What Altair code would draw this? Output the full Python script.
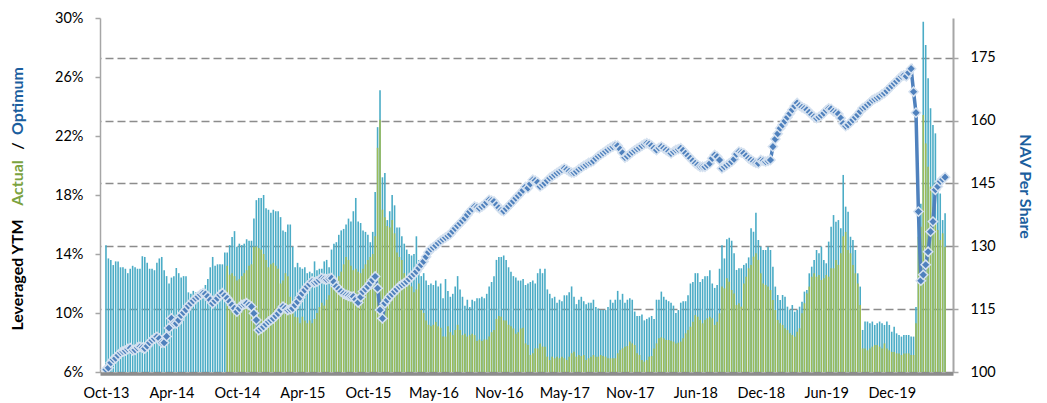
import altair as alt
import pandas as pd

# ---------------- data (weekly, starting 2013-10-04) ----------------
start_date = "2013-10-04"
tick_labels = ["Oct-13", "Apr-14", "Oct-14", "Apr-15", "Oct-15", "May-16", "Nov-16",
               "May-17", "Nov-17", "Jun-18", "Dec-18", "Jun-19", "Dec-19"]
label_step_weeks = 27

# Optimum leveraged YTM (%)
opt_a = [14.6, 13.7, 13.6, 13.25, 13.5, 13.5, 13.1, 13.1, 13.0, 12.7,
         13.0, 13.2, 13.1, 13.0, 13.0, 13.85, 13.8, 13.4, 13.0, 13.0,
         12.9, 13.4, 13.7, 13.8, 12.9, 12.5, 12.0, 12.4, 12.5, 13.05,
         12.7, 12.4, 12.5, 12.5, 11.4, 11.3, 11.5, 11.4, 11.2, 11.5,
         11.6, 11.9, 12.3, 13.1, 13.8, 13.2, 13.3, 13.3, 13.3, 14.1,
         14.1, 14.6, 15.15, 15.55, 14.5, 14.7, 14.6, 14.7, 15.0, 14.9,
         14.9, 16.4, 17.65, 17.8, 17.8, 18.0, 17.1, 17.0, 16.8, 17.0,
         16.9, 16.9, 16.5, 15.6, 15.5, 16.0, 16.0, 14.5, 13.1, 13.4,
         13.1, 13.0, 13.1, 12.7]
opt_b = [12.8]
opt_c = [12.7, 13.5, 12.9, 13.0, 13.0, 13.5, 13.6, 13.1, 14.3, 14.7,
         14.8, 15.3, 15.6, 15.7, 16.0, 16.4, 16.2, 16.9, 17.8, 16.2,
         16.1, 15.6, 15.5, 15.3, 14.8, 15.5, 18.2, 22.6, 25.1, 19.2,
         19.5, 16.3, 16.9, 18.0, 17.3, 15.8, 15.8, 15.2, 14.7, 14.3,
         14.0, 13.9, 14.0, 15.2, 13.6, 12.5, 12.7, 12.2, 11.9, 12.0,
         11.9, 12.2, 11.8, 12.0, 11.0, 12.3, 11.5, 11.1, 11.3, 11.8,
         12.5, 11.6, 11.1, 10.5, 10.9, 10.4, 10.9, 10.8, 11.0, 11.0,
         11.1, 11.0, 11.3, 11.8, 12.1, 12.5, 13.6, 13.8, 13.8, 13.9,
         13.6, 13.1, 12.8, 12.5, 12.4, 12.2, 12.2, 12.3]
opt_d = [11.9, 12.0, 12.1, 12.2, 12.0, 12.7, 13.0, 12.7, 13.0, 11.6,
         11.3, 11.0, 11.1, 10.7, 10.9, 10.8, 11.2, 11.2, 11.4, 11.8,
         11.1, 10.6, 10.9, 11.1, 10.8, 10.6, 10.7, 10.7, 10.9, 10.4,
         10.3, 10.2, 10.2, 10.2, 10.4, 10.9, 10.7, 10.9, 11.5, 10.9,
         11.3, 10.7, 10.9, 11.0, 10.9, 10.1, 9.8, 9.8, 9.9, 9.5,
         9.6, 9.7, 9.8, 9.6, 10.9, 10.9, 11.45, 11.1, 10.9, 10.8,
         10.7, 10.5, 10.0, 10.2, 10.7, 10.8, 10.8, 11.2, 12.0, 12.1,
         12.7, 12.7, 12.1, 12.3, 12.5, 12.5, 12.9, 12.0, 11.7, 11.9,
         13.0, 14.6, 13.7, 15.0, 15.1, 14.9]
opt_e = [14.05, 12.92, 13.03, 13.03, 13.26, 13.37, 13.77, 15.74, 15.51, 16.8,
         14.95, 14.5, 14.27, 14.27, 14.5, 14.27, 13.14, 11.79, 11.22, 10.88,
         11.22, 11.11, 10.43, 10.2, 10.54, 10.09, 10.2, 10.43, 10.77, 11.45,
         11.56, 12.69, 13.14, 13.59, 14.27, 14.05, 14.5, 13.59, 13.37, 14.84,
         15.85, 16.64, 16.19, 16.3, 15.74, 19.36, 17.21, 16.87, 15.17, 14.95,
         14.27, 12.69, 11.79, 8.85, 9.42, 9.42, 9.3, 9.42, 9.19, 9.3,
         9.42, 9.3, 9.19, 9.42, 9.19, 8.73, 9.07, 8.62, 8.51, 8.4,
         8.51, 8.51, 8.51, 8.4, 8.4, 10.4, 16.2, 17.4, 29.75, 28.17,
         25.91, 23.88, 22.75, 22.18, 18.79, 18.1, 16.3, 16.76]

# Actual leveraged YTM (%), no values before Sep-14
act_none = [None] * 50
act_a = [13.2, 12.6, 12.7, 12.5, 12.2, 12.3, 12.5, 12.7, 12.9, 13.2,
         13.3, 14.5, 14.5, 14.4, 14.3, 14.0, 13.6, 13.1, 13.3, 13.4,
         13.2, 13.0, 12.0, 12.2, 12.7, 12.5, 11.1, 10.2, 9.75, 9.7,
         9.3, 9.75, 9.5, 9.3]
act_b = [9.5]
act_c = [9.3, 9.6, 10.0, 10.4, 10.7, 10.5, 10.9, 11.2, 11.8, 11.6,
         12.2, 12.5, 12.8, 13.3, 13.8, 13.6, 13.2, 12.9, 13.0, 12.8,
         12.7, 13.0, 13.3, 13.6, 13.8, 14.0, 15.2, 21.2, 23.1, 17.0,
         16.5, 15.9, 15.8, 16.3, 15.4, 14.1, 13.8, 13.6, 12.7, 11.8,
         12.0, 11.8, 11.4, 11.6, 12.0, 10.2, 10.0, 9.5, 9.2, 9.1,
         9.2, 9.4, 9.1, 9.0, 8.4, 8.4, 9.1, 8.7, 8.5, 8.85,
         9.2, 8.85, 8.5, 8.6, 8.4, 8.5, 8.6, 8.5, 8.1, 8.2,
         8.1, 8.2, 8.2, 8.4, 8.7, 8.85, 9.6, 9.8, 9.75, 9.5,
         9.5, 9.2, 9.1, 8.95, 8.6, 8.7, 8.95, 9.0]
act_d = [7.94, 7.83, 7.15, 7.27, 7.6, 7.6, 7.94, 7.72, 7.72, 7.04,
         6.81, 7.04, 6.93, 7.04, 6.93, 7.04, 6.93, 6.81, 7.04, 7.27,
         7.38, 7.04, 7.15, 7.08, 7.15, 6.81, 6.93, 7.04, 7.15, 7.04,
         7.04, 7.15, 7.08, 7.04, 6.93, 6.93, 6.93, 6.93, 7.27, 7.49,
         7.6, 7.72, 7.76, 8.06, 7.94, 7.83, 7.27, 7.15, 6.81, 6.7,
         6.81, 7.04, 7.08, 7.6, 7.94, 8.28, 8.35, 8.28, 8.17, 8.17,
         8.12, 8.06, 7.94, 7.99, 8.06, 8.28, 8.62, 8.85, 9.07, 9.41,
         9.86, 9.75, 9.53, 9.3, 9.53, 9.64, 9.75, 9.64, 9.19, 9.41,
         9.98, 11.79, 11.67, 12.35, 12.12, 11.56]
act_e = [11.33, 10.54, 10.66, 10.43, 12.0, 12.46, 13.03, 13.26, 13.82, 14.05,
         13.6, 12.69, 12.0, 11.9, 11.79, 11.56, 10.88, 10.2, 9.53, 9.3,
         9.19, 8.96, 8.85, 8.62, 8.51, 8.4, 8.73, 8.96, 9.98, 10.66,
         11.33, 11.79, 12.46, 12.69, 12.46, 12.58, 12.24, 12.35, 12.58, 12.46,
         13.03, 13.03, 13.59, 13.26, 14.05, 15.2, 15.5, 14.27, 14.05, 13.26,
         12.69, 12.0, 10.54, 7.6, 7.6, 7.47, 7.6, 7.72, 7.83, 7.83,
         7.72, 7.6, 7.94, 7.6, 7.47, 7.36, 7.36, 7.26, 7.26, 7.15,
         7.26, 7.26, 7.26, 7.15, 7.15, 9.3, 15.17, 15.85, 23.42, 21.5,
         19.92, 18.57, 17.21, 16.3, 15.63, 14.95, 15.4, 14.5]

# NAV per share
nav_a = [100.6, 101.0, 102.2, 103.0, 103.3, 104.0, 104.6, 104.9, 105.1, 105.5,
         105.7, 105.2, 105.3, 105.8, 106.0, 105.8, 105.6, 106.2, 107.0, 107.6,
         108.0, 108.4, 108.0, 107.0, 107.0, 108.5, 110.5, 112.8, 111.6, 111.6,
         112.4, 113.5, 114.2, 114.9, 115.8, 116.4, 117.0, 117.6, 118.0, 118.5,
         118.8, 118.6, 118.0, 117.2, 116.4, 117.0, 117.6, 118.4, 118.8, 118.2,
         117.6, 116.8, 116.0, 115.2, 114.4, 115.2, 116.0, 116.2, 116.4, 116.0,
         115.6, 114.0, 112.4, 110.0, 110.4, 110.8, 111.4, 112.0, 112.4, 112.8,
         113.4, 114.0, 114.8, 115.6, 115.2, 114.8, 115.0, 115.2, 116.0, 116.8,
         117.8, 118.8, 119.6, 120.4, 121.0, 121.6]
nav_b = [121.4, 121.6, 122.0, 122.4, 122.2, 122.1, 122.3, 122.4, 121.5, 120.4,
         119.8, 119.2, 118.7, 118.4, 118.2, 118.0, 118.0, 117.3, 116.6, 117.9,
         119.2, 119.8, 120.4, 121.2, 122.0, 122.8, 120.0, 114.8, 112.8, 116.4,
         117.2, 118.0, 118.6, 119.2, 119.8, 120.4, 120.8, 121.2, 121.6, 122.2,
         122.8, 123.4, 124.0, 124.8, 125.6, 126.4, 127.5, 128.6, 129.4, 129.8,
         130.2, 130.8, 131.3, 131.7, 132.1, 132.5, 132.9, 133.6, 134.3, 134.9,
         135.5, 136.1, 136.7, 137.5, 138.3, 138.9, 139.5, 139.3, 139.1, 139.5,
         139.9, 140.5, 141.1, 140.9, 140.7, 139.9, 139.2, 138.6, 138.4, 139.0,
         139.6, 140.2, 140.8, 141.5, 142.1, 142.7, 143.4, 144.2]
nav_c = [143.9, 144.9, 145.9, 145.7, 145.3, 144.3, 144.7, 145.1, 145.7, 146.3,
         146.7, 147.1, 147.5, 147.9, 148.3, 148.6, 148.3, 147.9, 147.6, 147.6,
         147.9, 148.4, 148.8, 149.2, 149.5, 149.9, 150.1, 150.4, 151.0, 151.5,
         151.9, 152.3, 152.7, 153.1, 153.5, 153.8, 154.1, 154.0, 153.2, 152.3,
         151.2, 151.5, 152.0, 152.5, 152.9, 153.3, 153.6, 154.0, 154.4, 154.6,
         154.4, 154.0, 153.4, 153.0, 153.5, 153.8, 153.4, 153.0, 152.6, 152.2,
         152.6, 153.0, 153.2, 153.4, 152.9, 152.2, 151.6, 151.0, 150.4, 149.8,
         149.4, 149.0, 149.0, 149.0, 149.4, 149.8, 151.0, 151.8, 151.4, 150.6,
         148.6, 149.0, 149.4, 149.8, 150.2]
nav_d = [150.8, 152.0, 152.6, 152.4, 152.2, 151.6, 151.0, 150.6, 150.2, 149.9,
         149.8, 150.6, 150.4, 150.2, 150.4, 150.6, 153.8, 155.6, 156.9, 158.2,
         159.0, 159.9, 160.8, 161.7, 162.6, 163.5, 164.2, 163.6, 163.2, 162.9,
         162.6, 162.0, 161.4, 160.9, 160.6, 160.9, 161.3, 161.8, 162.5, 162.9,
         162.8, 162.2, 161.9, 161.6, 160.6, 159.3, 158.7, 159.0, 159.6, 160.2,
         160.8, 161.4, 162.2, 163.0, 163.3, 163.8, 164.3, 164.9, 165.2, 165.5,
         165.8, 166.3, 166.6, 167.1, 167.8, 168.3, 168.9, 169.4, 170.0, 170.6,
         170.8, 170.6, 171.5, 172.4, 166.9, 161.9, 138.3, 121.8, 123.2, 125.6,
         128.7, 133.5, 135.9, 143.5, 144.3, 145.5, 146.0, 146.5]

optimum = opt_a + opt_b + opt_c + opt_d + opt_e
actual = act_none + act_a + act_b + act_c + act_d + act_e
nav = nav_a + nav_b + nav_c + nav_d
assert len(optimum) == len(actual) == len(nav), (len(optimum), len(actual), len(nav))

# ---------------- build ----------------
n = len(optimum)
start = pd.Timestamp(start_date)
WEEK_MS = 7 * 24 * 3600 * 1000
t0 = int(start.value // 10**6)
dates = [(start + pd.Timedelta(weeks=i)).strftime("%Y-%m-%d") for i in range(n)]
df = pd.DataFrame({"date": dates, "optimum": optimum, "actual": actual, "nav": nav})

tick_values = [t0 + i * label_step_weeks * WEEK_MS for i in range(len(tick_labels))]
label_expr = ("[" + ",".join("'%s'" % s for s in tick_labels) + "]"
              + "[round((datum.value - %d) / %d)]" % (t0, label_step_weeks * WEEK_MS))

FONT = "Lato"
LBL = 14.5
AXIS_GRAY = "#a6a6a6"

x_enc = alt.X(
    "date:T",
    scale=alt.Scale(type="utc", domain=[t0 - 0.4 * WEEK_MS, t0 + (n + 0.2) * WEEK_MS]),
    axis=alt.Axis(values=tick_values, labelExpr=label_expr, title=None, grid=False,
                  ticks=False, tickSize=0, domainColor="#8c8c8c", domainWidth=3.3,
                  offset=1.5, labelPadding=13, labelFlush=False, labelOverlap=False,
                  labelFont=FONT, labelFontSize=LBL, labelColor="black", zindex=1),
)

left_axis = alt.Axis(values=[6, 10, 14, 18, 22, 26, 30], labelExpr="datum.value + '%'",
                     title=None, grid=False, domainColor=AXIS_GRAY, domainWidth=1.5,
                     tickColor=AXIS_GRAY, tickWidth=1.5, tickSize=5, labelPadding=12,
                     labelFont=FONT, labelFontSize=LBL, labelColor="black")
ytm_scale = alt.Scale(domain=[6, 30], zero=False, nice=False)

right_axis = alt.Axis(orient="right", values=[100, 115, 130, 145, 160, 175], title=None,
                      grid=True, gridDash=[8, 4], gridColor="#8c8c8c", gridWidth=1.4,
                      domainColor=AXIS_GRAY, domainWidth=2, tickColor=AXIS_GRAY,
                      tickWidth=1.5, tickSize=5, labelPadding=12,
                      labelFont=FONT, labelFontSize=LBL, labelColor="black")
nav_scale = alt.Scale(domain=[100, 184.5], zero=False, nice=False)

base = alt.Chart(df)

blue = base.mark_bar(size=1.6, color="#4BACC6").encode(
    x=x_enc,
    y=alt.Y("optimum:Q", scale=ytm_scale, axis=left_axis),
    y2=alt.datum(6),
)
green = base.transform_filter("isValid(datum.actual)").mark_bar(size=1.6, color="#9BBB59").encode(
    x=x_enc,
    y=alt.Y("actual:Q", scale=ytm_scale, axis=left_axis),
    y2=alt.datum(6),
)
bars = alt.layer(blue, green)

nav_line = base.mark_line(color="#4F81BD", strokeWidth=3.5).encode(
    x=x_enc, y=alt.Y("nav:Q", scale=nav_scale, axis=right_axis))
nav_pts = base.mark_point(shape="diamond", filled=True, size=85, color="#4F81BD",
                          stroke="#D6E2F0", strokeWidth=1.5, opacity=1).encode(
    x=x_enc, y=alt.Y("nav:Q", scale=nav_scale, axis=right_axis))
navl = alt.layer(nav_line, nav_pts)


def label(text, x, y, color, angle):
    return alt.Chart(pd.DataFrame({"t": [text]})).mark_text(
        angle=angle, align="center", baseline="middle", font=FONT, fontSize=16,
        fontWeight="bold", color=color).encode(text="t:N", x=alt.value(x), y=alt.value(y))


TITLE_BLUE = "#1B5E9E"
texts = [
    label("Leveraged YTM", -81.8, 257, "black", 270),
    label("Actual", -81.8, 165, "#7BA23F", 270),
    label("/", -81.8, 128, "black", 270),
    label("Optimum", -81.8, 83, TITLE_BLUE, 270),
    label("NAV Per Share", 924.5, 168.5, TITLE_BLUE, 90),
]

chart = alt.layer(bars, navl, *texts).resolve_scale(y="independent").properties(
    width=853, height=354,
    autosize=alt.AutoSizeParams(type="none"),
    padding={"left": 92, "top": 10, "right": 86, "bottom": 31},
    background="white",
).configure_view(stroke=None)

chart.save("out.html", embed_options={"renderer": "svg", "actions": False})
